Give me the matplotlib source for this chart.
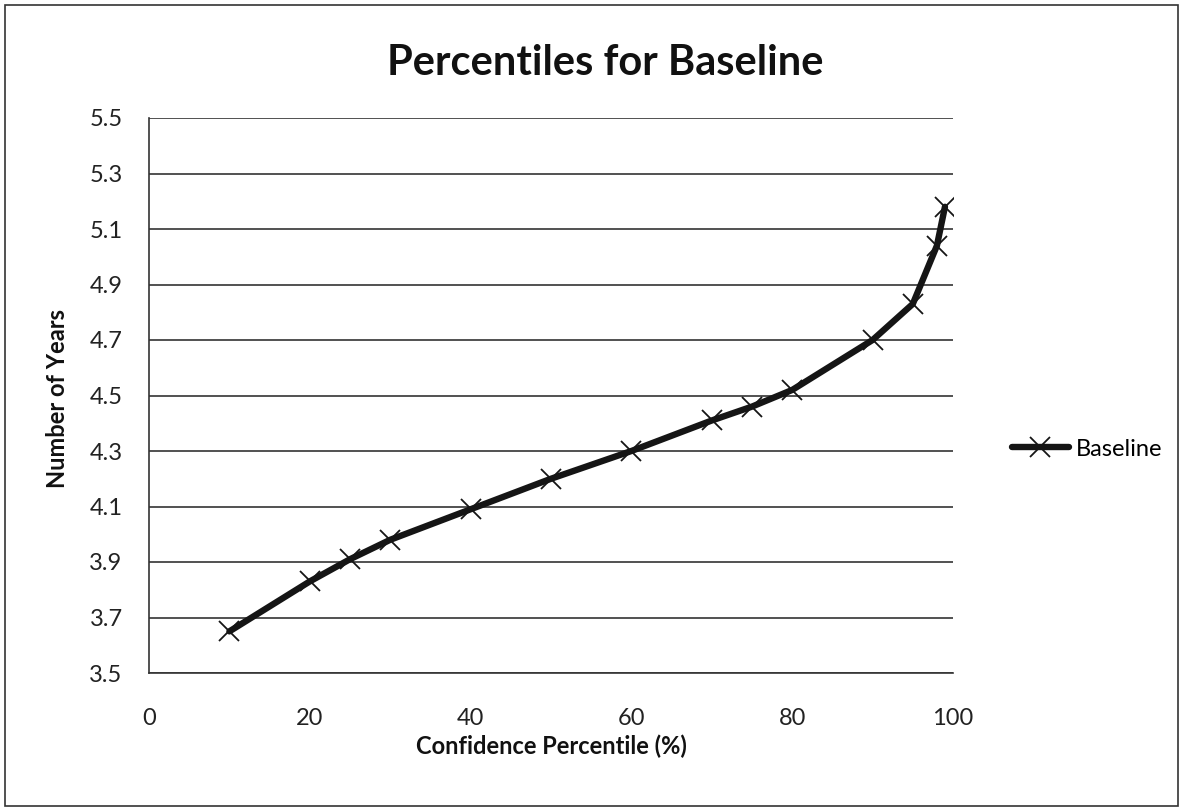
import numpy as np
import matplotlib.pyplot as plt
from matplotlib.patches import Rectangle

plt.rcParams['font.family'] = ['Lato', 'DejaVu Sans']

percentil = [10, 20, 25, 30, 40, 50, 60, 70, 75, 80, 90, 95, 98, 99]
anios = [3.65, 3.83, 3.91, 3.98, 4.09, 4.20, 4.30, 4.41, 4.46, 4.52, 4.70, 4.83, 5.04, 5.18]
yticks = [3.5, 3.7, 3.9, 4.1, 4.3, 4.5, 4.7, 4.9, 5.1, 5.3, 5.5]
xticks = [0, 20, 40, 60, 80, 100]

fig = plt.figure(figsize=(11.83, 8.11), dpi=100)
ax = fig.add_axes([149/1183, 1-673/811, (953-149)/1183, (673-118)/811])

ax.plot(percentil, anios, color='#151515', lw=4.6, marker='x', ms=15, mew=1.3,
        solid_capstyle='round', solid_joinstyle='round', label='Baseline')

ax.set_xlim(0, 100)
ax.set_ylim(3.5, 5.5)
ax.set_yticks(yticks)
ax.set_yticklabels([f'{v:.1f}' for v in yticks])
ax.set_xticks(xticks)
ax.tick_params(length=0, labelsize=17, colors='#222222')
ax.tick_params(axis='x', pad=25)
ax.tick_params(axis='y', pad=19)
ax.grid(axis='y', color='#333333', lw=1.2)
ax.set_axisbelow(True)
for s in ['top', 'right']:
    ax.spines[s].set_visible(False)
for s in ['left', 'bottom']:
    ax.spines[s].set_color('#333333')
    ax.spines[s].set_linewidth(1.2)

fig.text(605/1183, 1-63/811, 'Percentiles for Baseline', ha='center', va='center',
         fontsize=30, fontweight='bold', color='#111111')
fig.text(58/1183, 1-398/811, 'Number of Years', ha='center', va='center', rotation=90,
         fontsize=17, fontweight='bold', color='#111111')
fig.text(551/1183, 1-746/811, 'Confidence Percentile (%)', ha='center', va='center',
         fontsize=17, fontweight='bold', color='#111111')

ax.legend(loc='center left', bbox_to_anchor=(1012/1183, 1-449/811), bbox_transform=fig.transFigure,
          frameon=False, fontsize=17, handlelength=2.4, handletextpad=0.3,
          borderpad=0, borderaxespad=0)

fig.add_artist(Rectangle((5/1183, 5/811), 1173/1183, 801/811, transform=fig.transFigure,
                         fill=False, edgecolor='#333333', lw=1.2))

plt.savefig('out.png', dpi=100)
